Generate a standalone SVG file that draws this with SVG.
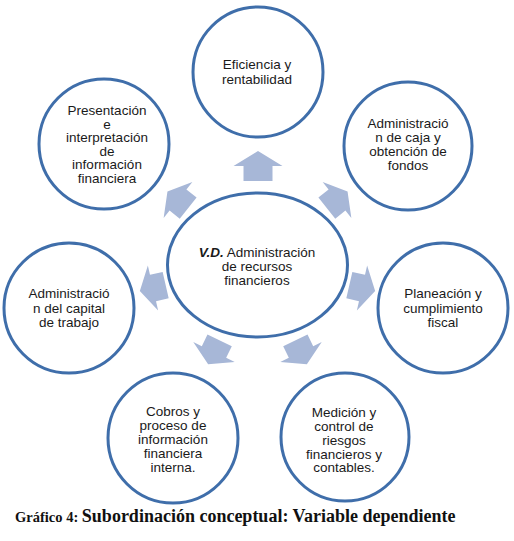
<svg xmlns="http://www.w3.org/2000/svg" width="514" height="541" viewBox="0 0 514 541">
  <style>
    .node { fill: #ffffff; stroke: #3f6eaa; stroke-width: 3; }
    .lbl { font-family: "Liberation Sans", Arial, sans-serif; font-size: 13.5px; fill: #1a1a1a; text-anchor: middle; }
    .arrow { fill: #a7b7d7; }
    .cap { font-family: "Liberation Serif", "Times New Roman", serif; font-weight: bold; fill: #111111; }
  </style>
  <defs>
    <path id="arr" d="M-13,-13.5 L0,-13.5 L0,-23 L13.5,0 L0,23 L0,13.5 L-13,13.5 Z"/>
  </defs>
  <rect width="514" height="541" fill="#ffffff"/>

  <g id="connectors" class="arrow">
    <path d="M-15,-14.5 L0,-14.5 L0,-24.5 L15,0 L0,24.5 L0,14.5 L-15,14.5 Z" transform="translate(258,166) rotate(-90)"/>
    <use href="#arr" transform="translate(337,200) rotate(-38.6)"/>
    <use href="#arr" transform="translate(362,288) rotate(12.9)"/>
    <use href="#arr" transform="translate(301,352) rotate(64.3)"/>
    <use href="#arr" transform="translate(214,352) rotate(115.7)"/>
    <use href="#arr" transform="translate(153,288) rotate(167.1)"/>
    <use href="#arr" transform="translate(178,200) rotate(218.6)"/>
  </g>

  <g id="center">
    <ellipse class="node" cx="257.5" cy="265" rx="90" ry="72"/>
    <text class="lbl"><tspan x="257" y="257"><tspan font-weight="bold" font-style="italic">V.D.</tspan> Administración</tspan><tspan x="257" y="271">de recursos</tspan><tspan x="257" y="285">financieros</tspan></text>
  </g>

  <g id="n-eficiencia">
    <circle class="node" cx="258" cy="72" r="65"/>
    <text class="lbl"><tspan x="257" y="69">Eficiencia y</tspan><tspan x="257" y="84">rentabilidad</tspan></text>
  </g>

  <g id="n-caja">
    <circle class="node" cx="408" cy="146" r="64"/>
    <text class="lbl"><tspan x="408" y="128">Administració</tspan><tspan x="408" y="142">n de caja y</tspan><tspan x="408" y="156">obtención de</tspan><tspan x="408" y="170">fondos</tspan></text>
  </g>

  <g id="n-planeacion">
    <circle class="node" cx="443" cy="308" r="65"/>
    <text class="lbl"><tspan x="443" y="298">Planeación y</tspan><tspan x="443" y="312.5">cumplimiento</tspan><tspan x="443" y="327">fiscal</tspan></text>
  </g>

  <g id="n-riesgos">
    <circle class="node" cx="345" cy="437" r="64"/>
    <text class="lbl"><tspan x="344" y="417">Medición y</tspan><tspan x="344" y="431">control de</tspan><tspan x="344" y="445">riesgos</tspan><tspan x="344" y="458.5">financieros y</tspan><tspan x="344" y="472">contables.</tspan></text>
  </g>

  <g id="n-cobros">
    <circle class="node" cx="173" cy="438" r="65"/>
    <text class="lbl"><tspan x="173" y="416">Cobros y</tspan><tspan x="173" y="430">proceso de</tspan><tspan x="173" y="444">información</tspan><tspan x="173" y="458">financiera</tspan><tspan x="173" y="472">interna.</tspan></text>
  </g>

  <g id="n-capital">
    <circle class="node" cx="69" cy="308" r="65"/>
    <text class="lbl"><tspan x="69" y="298">Administració</tspan><tspan x="69" y="313">n del capital</tspan><tspan x="69" y="327">de trabajo</tspan></text>
  </g>

  <g id="n-presentacion">
    <circle class="node" cx="104" cy="144" r="65"/>
    <text class="lbl"><tspan x="107" y="115">Presentación</tspan><tspan x="107" y="128.5">e</tspan><tspan x="107" y="142">interpretación</tspan><tspan x="107" y="155.5">de</tspan><tspan x="107" y="169">información</tspan><tspan x="107" y="182.5">financiera</tspan></text>
  </g>

  <text class="cap" x="15" y="522"><tspan font-size="14.5px">Gráfico 4: </tspan><tspan font-size="18px">Subordinación conceptual: Variable dependiente</tspan></text>
</svg>
